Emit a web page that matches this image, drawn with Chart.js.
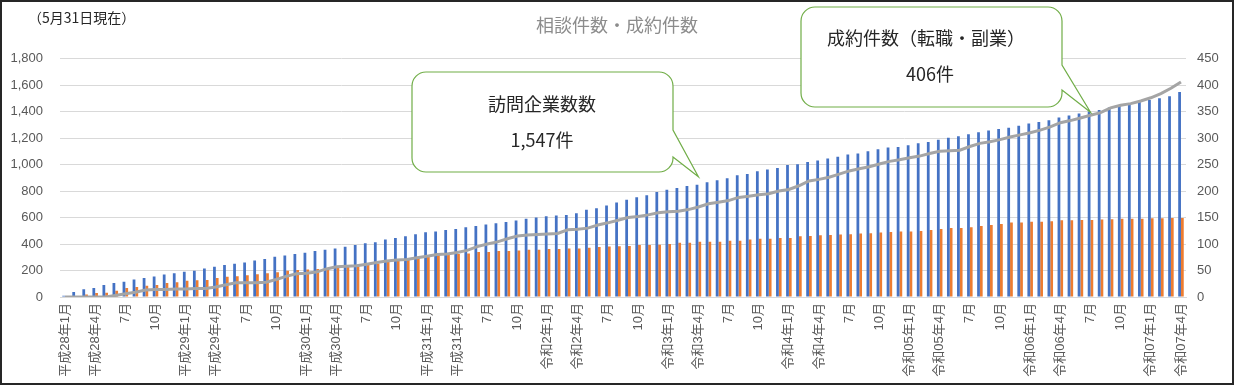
<!DOCTYPE html>
<html lang="ja">
<head>
  <meta charset="UTF-8">
  <title>相談件数・成約件数</title>
  <script src="https://cdn.jsdelivr.net/npm/chart.js"></script>
  <style>
    body { margin: 0; background: #fff; }
    #wrap {
      width: 1234px;
      height: 385px;
      box-sizing: border-box;
      border: 2px solid #262626;
      position: relative;
    }
  </style>
</head>
<body>
  <div id="wrap"><canvas id="chart"></canvas></div>

  <script>
    // 年の表示（1月・4月のみ年号付き）
    const yearPrefixes = ['平成28年', '平成29年', '平成30年', '平成31年', '令和2年', '令和3年', '令和4年', '令和05年', '令和06年', '令和07年'];
    const monthsInLastYear = 4;

    // 訪問企業数（左軸）
    const visits = [
      10, 38, 58, 68, 91, 106, 116, 132, 144, 154, 170, 180,
      190, 198, 215, 228, 241, 251, 261, 276, 286, 304, 314, 324,
      334, 347, 357, 367, 380, 392, 405, 413, 435, 445, 458, 473,
      488, 494, 506, 514, 526, 537, 547, 557, 567, 577, 590, 600,
      610, 615, 620, 633, 658, 671, 691, 714, 734, 754, 769, 792,
      810, 823, 838, 848, 866, 881, 896, 919, 929, 949, 962, 974,
      997, 1002, 1020, 1030, 1046, 1058, 1075, 1084, 1101, 1116, 1128, 1133,
      1146, 1160, 1170, 1188, 1203, 1214, 1228, 1244, 1257, 1268, 1278, 1293,
      1310, 1322, 1335, 1355, 1370, 1385, 1400, 1412, 1430, 1443, 1453, 1474,
      1488, 1500, 1515, 1547
    ];

    // 相談件数（左軸）
    const consultations = [
      2, 5, 18, 30, 33, 48, 68, 76, 84, 91, 106, 111,
      122, 127, 129, 144, 152, 157, 165, 172, 180, 187, 198, 203,
      208, 212, 215, 228, 228, 233, 245, 253, 266, 273, 283, 296,
      314, 321, 321, 324, 329, 339, 339, 347, 347, 352, 357, 357,
      362, 362, 367, 367, 372, 377, 382, 384, 385, 392, 392, 395,
      400, 410, 410, 418, 418, 418, 425, 425, 435, 440, 440, 445,
      445, 458, 461, 466, 468, 472, 473, 480, 481, 487, 490, 494,
      494, 499, 506, 514, 521, 521, 526, 537, 544, 552, 562, 562,
      569, 569, 572, 580, 580, 582, 582, 585, 587, 590, 590, 590,
      595, 595, 597, 597
    ];

    // 成約件数（右軸）
    const contracts = [
      0, 0, 0, 0, 0, 3, 6, 9, 13, 14, 14, 15,
      15, 16, 16, 19, 23, 27, 27, 27, 28, 33, 39, 44,
      45, 47, 53, 57, 58, 59, 62, 65, 68, 70, 71, 74,
      77, 80, 81, 84, 88, 95, 100, 104, 110, 115, 117, 118,
      119, 120, 127, 128, 130, 136, 140, 145, 150, 152, 155, 159,
      161, 162, 165, 170, 176, 179, 182, 188, 190, 193, 195, 200,
      203, 210, 219, 222, 226, 232, 238, 242, 246, 251, 256, 259,
      263, 266, 271, 275, 276, 277, 284, 290, 293, 297, 302, 306,
      310, 315, 321, 329, 333, 338, 343, 348, 357, 362, 365, 370,
      376, 384, 394, 406
    ];

    const categories = [];
    yearPrefixes.forEach((p, i) => {
      const n = i === yearPrefixes.length - 1 ? monthsInLastYear : 12;
      for (let m = 1; m <= n; m++) {
        categories.push(m === 1 || m === 4 ? p + m + '月' : m + '月');
      }
    });

    const FONT = "'Liberation Sans', 'Noto Sans CJK JP', sans-serif";
    const JP = "'Noto Sans CJK JP', sans-serif";

    function bubble(ctx, bx, by, w, h, t1, t2, tipX, tipY) {
      const r = 14;
      ctx.beginPath();
      ctx.moveTo(bx + r, by);
      ctx.lineTo(bx + w - r, by);
      ctx.arcTo(bx + w, by, bx + w, by + r, r);
      ctx.lineTo(bx + w, by + t1);
      ctx.lineTo(tipX, tipY);
      ctx.lineTo(bx + w, by + t2);
      ctx.lineTo(bx + w, by + h - r);
      ctx.arcTo(bx + w, by + h, bx + w - r, by + h, r);
      ctx.lineTo(bx + r, by + h);
      ctx.arcTo(bx, by + h, bx, by + h - r, r);
      ctx.lineTo(bx, by + r);
      ctx.arcTo(bx, by, bx + r, by, r);
      ctx.closePath();
      ctx.fillStyle = '#ffffff';
      ctx.fill();
      ctx.strokeStyle = '#70AD47';
      ctx.lineWidth = 1.2;
      ctx.stroke();
    }

    const callouts = {
      id: 'callouts',
      afterDraw(chart) {
        const ctx = chart.ctx;
        const { x, y, y1 } = chart.scales;
        ctx.save();
        ctx.font = '14px ' + JP;
        ctx.fillStyle = '#262626';
        ctx.textBaseline = 'middle';
        ctx.textAlign = 'left';
        ctx.fillText('（5月31日現在）', 26, 16);

        const i1 = 63, i2 = 102;
        bubble(ctx, 410, 70, 261, 100, 58, 85,
          x.getPixelForValue(i1), y.getPixelForValue(visits[i1]) - 8);
        bubble(ctx, 799, 5, 261, 100, 58, 83,
          x.getPixelForValue(i2), y1.getPixelForValue(contracts[i2]) - 3);

        ctx.font = '18px ' + JP;
        ctx.fillStyle = '#262626';
        ctx.textAlign = 'center';
        ctx.fillText('訪問企業数数', 540, 102);
        ctx.fillText(visits[visits.length - 1].toLocaleString('ja-JP') + '件', 540, 138);
        ctx.fillText('成約件数（転職・副業）', 924, 36);
        ctx.fillText(contracts[contracts.length - 1] + '件', 928, 72);
        ctx.restore();
      }
    };

    new Chart(document.getElementById('chart'), {
      type: 'bar',
      data: {
        labels: categories,
        datasets: [
          {
            type: 'line',
            label: '成約件数',
            data: contracts,
            yAxisID: 'y1',
            borderColor: '#A5A5A5',
            borderWidth: 3,
            pointRadius: 0,
            tension: 0,
            order: 0
          },
          {
            label: '訪問企業数',
            data: visits,
            yAxisID: 'y',
            backgroundColor: '#4472C4',
            categoryPercentage: 0.55,
            barPercentage: 1,
            order: 1
          },
          {
            label: '相談件数',
            data: consultations,
            yAxisID: 'y',
            backgroundColor: '#ED7D31',
            categoryPercentage: 0.55,
            barPercentage: 1,
            order: 1
          }
        ]
      },
      options: {
        responsive: true,
        maintainAspectRatio: false,
        animation: false,
        layout: { padding: 0 },
        plugins: {
          legend: { display: false },
          tooltip: { enabled: false },
          title: {
            display: true,
            text: '相談件数・成約件数',
            color: '#8C8C8C',
            font: { family: JP, size: 18, weight: 'normal' },
            padding: { top: 12, bottom: 23 }
          }
        },
        scales: {
          x: {
            grid: { display: false, drawTicks: false, tickLength: 0 },
            border: { display: true, color: '#D9D9D9' },
            afterFit: s => { s.height = 86; },
            ticks: {
              autoSkip: false,
              maxRotation: 90,
              minRotation: 90,
              padding: 6,
              color: '#595959',
              font: { family: FONT, size: 13 },
              callback: (v, i) => (i % 3 === 0 ? categories[i] : '')
            }
          },
          y: {
            position: 'left',
            min: 0,
            max: 1800,
            grid: { color: '#D9D9D9', drawTicks: false },
            border: { display: false },
            afterFit: s => { s.width = 58; },
            ticks: {
              stepSize: 200,
              padding: 17,
              color: '#595959',
              font: { family: FONT, size: 13 },
              callback: v => v.toLocaleString('en-US')
            }
          },
          y1: {
            position: 'right',
            min: 0,
            max: 450,
            grid: { display: false, drawTicks: false },
            border: { display: false },
            afterFit: s => { s.width = 46; },
            ticks: {
              stepSize: 50,
              padding: 11,
              color: '#595959',
              font: { family: FONT, size: 13 }
            }
          }
        }
      },
      plugins: [callouts]
    });
  </script>
</body>
</html>
